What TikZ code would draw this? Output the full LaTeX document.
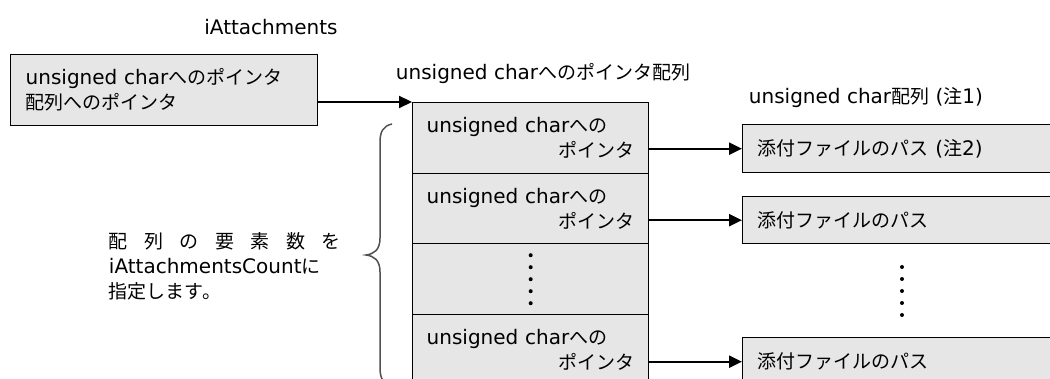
\documentclass[tikz,border=0pt]{standalone}
\usepackage{fontspec}
\setmainfont{DejaVu Sans}
\newfontfamily\jp[Scale=0.95]{Noto Sans CJK JP}
\usetikzlibrary{arrows.meta}
\definecolor{boxgray}{RGB}{230,230,230}
\definecolor{bracegray}{RGB}{80,80,80}

\begin{document}
\begin{tikzpicture}[x=1pt,y=1pt,yscale=-1,xscale=1,
  font=\fontsize{20}{25}\selectfont,
  cellbox/.style={draw, line width=1.4pt, fill=boxgray, anchor=north west, inner ysep=0pt, align=left},
  ptrarrow/.style={line width=2.2pt, -{Triangle[length=13pt,width=12pt]}}]
\useasboundingbox (0,0) rectangle (1050,379);
\clip (0,0) rectangle (1050,379);

%Shape: Rectangle [pointer to array]
\node [cellbox, text width=277pt, inner xsep=15pt, minimum height=71pt] (ptrbox) at (10,54) {unsigned char{\jp へのポインタ}\\{\jp 配列へのポインタ}};
%Shape: Rectangle [array cells]
\node [cellbox, text width=208pt, inner xsep=14pt, minimum height=71pt] (cell1) at (412,102) {unsigned char{\jp への}\\\mbox{}\hspace*{0pt plus 1filll}{\jp ポインタ}};
\node [cellbox, text width=208pt, inner xsep=14pt, minimum height=71pt] (cell2) at (412,173) {unsigned char{\jp への}\\\mbox{}\hspace*{0pt plus 1filll}{\jp ポインタ}};
\node [cellbox, text width=208pt, inner xsep=14pt, minimum height=71pt] (cell3) at (412,243) {};
\node [cellbox, text width=208pt, inner xsep=14pt, minimum height=71pt] (cell4) at (412,314) {unsigned char{\jp への}\\\mbox{}\hspace*{0pt plus 1filll}{\jp ポインタ}};
%Shape: Rectangle [paths]
\node [cellbox, text width=293pt, inner xsep=15pt, minimum height=48pt] (path1) at (742,124) {{\jp 添付ファイルのパス} ({\jp 注}2)};
\node [cellbox, text width=293pt, inner xsep=15pt, minimum height=47pt] (path2) at (742,196) {{\jp 添付ファイルのパス}};
\node [cellbox, text width=293pt, inner xsep=15pt, minimum height=48pt] (path3) at (742,337) {{\jp 添付ファイルのパス}};

%Straight Lines
\draw [ptrarrow] (ptrbox.east |- cell1.north west) -- (cell1.north west);
\draw [ptrarrow] (cell1.east |- path1.west) -- (path1.west);
\draw [ptrarrow] (cell2.east |- path2.west) -- (path2.west);
\draw [ptrarrow] (cell4.east |- path3.west) -- (path3.west);

%Shape: Dots
\foreach \k in {-2,...,2} {
  \fill ([yshift=12*\k pt]cell3.center) circle (2pt);
  \fill (902,291+12*\k) circle (2pt);
}

%Shape: Brace
\draw [bracegray, line width=1.5pt] (392,124) .. controls (383,126) and (380,132) .. (380,142) -- (380,238) .. controls (380,250) and (374,254) .. (366,255) .. controls (374,256) and (380,260) .. (380,272) -- (380,368) .. controls (380,378) and (383,384) .. (392,386);

% Text Node
\draw (271,27) node [inner sep=0.75pt] (lblptr) {iAttachments};
% Text Node
\draw (395,74) node [anchor=west, inner sep=0.75pt] (lblarr) {unsigned char{\jp へのポインタ配列}};
% Text Node
\draw (748,98) node [anchor=west, inner sep=0.75pt] (lblchar) {unsigned char{\jp 配列} ({\jp 注}1)};
% Text Node
\draw (108,266) node [anchor=west, inner sep=0.75pt, align=left] (lblcount) {\makebox[232pt][s]{{\jp 配}\hfill{\jp 列}\hfill{\jp の}\hfill{\jp 要}\hfill{\jp 素}\hfill{\jp 数}\hfill{\jp を}}\\iAttachmentsCount{\jp に}\\{\jp 指定します。}};

\end{tikzpicture}
\end{document}
